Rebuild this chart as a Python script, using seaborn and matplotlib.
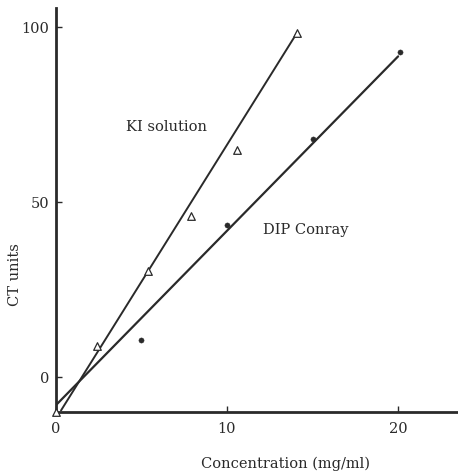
import numpy as np
import pandas as pd
import matplotlib
matplotlib.use("Agg")
import matplotlib.pyplot as plt
import seaborn as sns

# KI solution (open triangles)
ki_conc = [0.0, 2.4, 5.4, 7.9, 10.6, 14.1]
ki_ct = [-10.0, 9.0, 30.5, 46.0, 65.0, 98.5]
# DIP Conray (dots)
dip_conc = [5.0, 10.0, 15.0, 20.1]
dip_ct = [10.5, 43.5, 68.0, 93.0]
# fitted lines as drawn on the original (ends of each line)
ki_fit_conc = [0.3, 14.1]
ki_fit_ct = [-9.5, 98.5]
dip_fit_conc = [0.0, 20.0]
dip_fit_ct = [-8.0, 91.7]

x_ticks = [0, 10, 20]
y_ticks = [0, 50, 100]

sns.set_style("ticks")
plt.rcParams['font.family'] = ['DejaVu Serif']

fig = plt.figure(figsize=(4.58, 4.76), dpi=100)
ax = fig.add_axes([0.122, 0.134, 0.878, 0.849])

ink = "#2a2a2a"
sns.lineplot(x=ki_fit_conc, y=ki_fit_ct, ax=ax, color=ink, lw=1.4)
sns.lineplot(x=dip_fit_conc, y=dip_fit_ct, ax=ax, color=ink, lw=1.6)
sns.scatterplot(x=ki_conc, y=ki_ct, ax=ax, marker="^", s=30,
                facecolor="white", edgecolor=ink, linewidth=0.9,
                clip_on=False, zorder=5)
sns.scatterplot(x=dip_conc, y=dip_ct, ax=ax, marker="o", s=14,
                color=ink, edgecolor=ink, clip_on=False, zorder=5)

ax.text(4.1, 71.5, "KI solution", fontsize=10.5, color=ink, va="center")
ax.text(12.1, 42, "DIP Conray", fontsize=10.5, color=ink, va="center")

ax.set_xlim(0, 23.5)
ax.set_ylim(-10, 105.5)
ax.set_xticks(x_ticks)
ax.set_yticks(y_ticks)
ax.tick_params(direction="in", length=4, width=1, colors=ink,
               labelsize=10.5, pad=5)
ax.tick_params(axis="x", pad=7)
sns.despine(ax=ax)
for s in ["left", "bottom"]:
    ax.spines[s].set_linewidth(2)
    ax.spines[s].set_color(ink)

ax.set_xlabel("Concentration (mg/ml)", fontsize=10.5, color=ink)
ax.set_ylabel("CT units", fontsize=10.5, color=ink)
ax.xaxis.set_label_coords(0.57, -0.11)
ax.yaxis.set_label_coords(-0.085, 0.34)

fig.savefig("out.png", dpi=100)
